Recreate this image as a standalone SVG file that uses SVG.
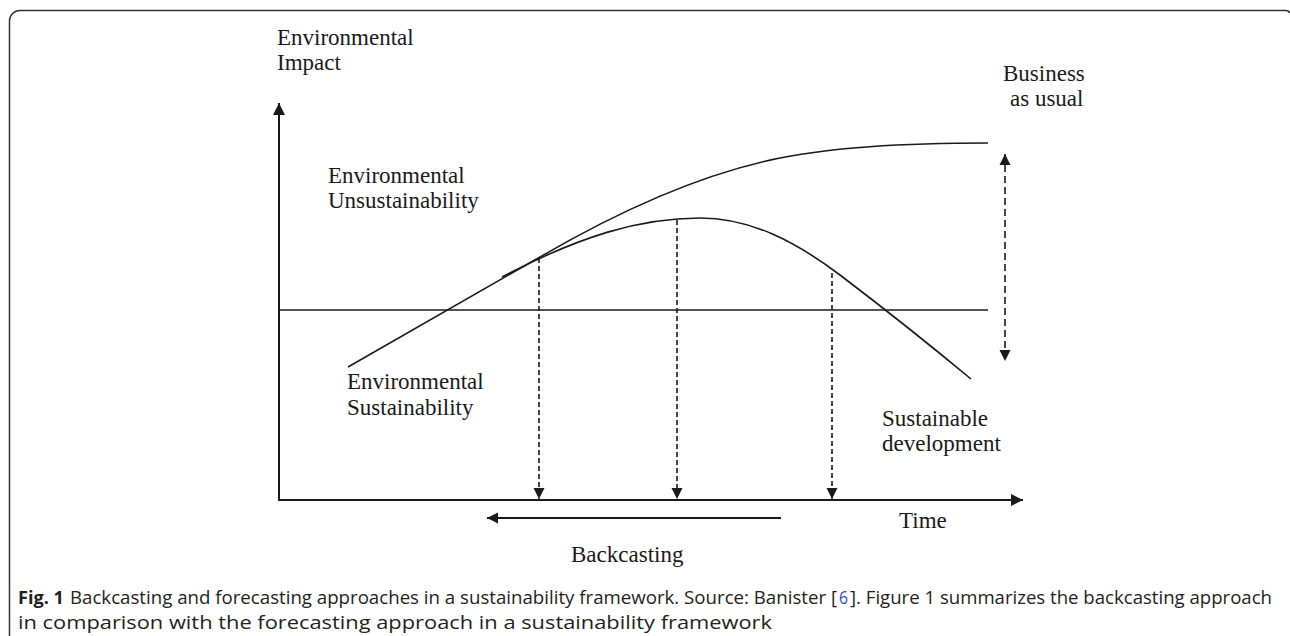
<svg xmlns="http://www.w3.org/2000/svg" width="1290" height="636" viewBox="0 0 1290 636">
<style>
.lbl{font-family:"Liberation Serif","Times New Roman",serif;font-size:23px;fill:#1a1a1a}
.cap{font-family:"Open Sans","Liberation Sans",sans-serif;font-size:18px;fill:#231f20}
.ax{stroke:#1a1a1a;stroke-width:2;fill:none}
.crv{stroke:#1a1a1a;stroke-width:1.6;fill:none}
.dash{stroke:#1a1a1a;stroke-width:1.6;fill:none;stroke-dasharray:5 3}
.dash2{stroke:#1a1a1a;stroke-width:1.6;fill:none;stroke-dasharray:7 4}
</style>
<defs>
<marker id="ah" markerUnits="userSpaceOnUse" markerWidth="12" markerHeight="12" refX="12" refY="6" orient="auto" overflow="visible">
<path d="M0,0 L12,6 L0,12 z" fill="#1a1a1a"/>
</marker>
<marker id="ahs" markerUnits="userSpaceOnUse" markerWidth="11" markerHeight="11" refX="11" refY="5.5" orient="auto" overflow="visible">
<path d="M0,0 L11,5.5 L0,11 z" fill="#1a1a1a"/>
</marker>
<marker id="ahsr" markerUnits="userSpaceOnUse" markerWidth="11" markerHeight="11" refX="0" refY="5.5" orient="auto" overflow="visible">
<path d="M11,0 L0,5.5 L11,11 z" fill="#1a1a1a"/>
</marker>
</defs>
<rect width="1290" height="636" fill="#ffffff"/>
<path d="M9.5,640 V21 A10.5,10.5 0 0 1 20,10.5 H1286 Q1289,10.5 1289.5,13" fill="none" stroke="#333" stroke-width="1.5"/>

<g id="connectors">
<line id="y-axis" class="ax" x1="279" y1="501" x2="279" y2="103" marker-end="url(#ah)"/>
<line id="x-axis" class="ax" x1="278" y1="500" x2="1023" y2="500" marker-end="url(#ah)"/>
<line id="threshold" class="crv" x1="279" y1="310" x2="988" y2="310"/>
<path id="bau" class="crv" d="M348,367 L540,257 C600,222 690,176 780,158 C840,146 920,143 988,143"/>
<path id="sust" class="crv" d="M502,277 C580,236 640,218 700,218 C750,218 795,241 840,275 C890,313 930,345 971,379"/>
<line class="dash" x1="539" y1="258" x2="539" y2="499" marker-end="url(#ahs)"/>
<line class="dash" x1="677" y1="220" x2="677" y2="499" marker-end="url(#ahs)"/>
<line class="dash" x1="832" y1="273" x2="832" y2="499" marker-end="url(#ahs)"/>
<line class="dash2" x1="1005" y1="154" x2="1005" y2="361" marker-start="url(#ahsr)" marker-end="url(#ahs)"/>
<line id="backcast-arrow" class="ax" x1="781" y1="518" x2="487" y2="518" marker-end="url(#ahs)"/>
</g>

<g id="label-impact"><text class="lbl" x="277" y="45">Environmental</text><text class="lbl" x="277" y="70">Impact</text></g>
<g id="label-unsust"><text class="lbl" x="328" y="183">Environmental</text><text class="lbl" x="328" y="208">Unsustainability</text></g>
<g id="label-bau"><text class="lbl" x="1003" y="81">Business</text><text class="lbl" x="1010" y="106">as usual</text></g>
<g id="label-sust"><text class="lbl" x="347" y="389">Environmental</text><text class="lbl" x="347" y="415">Sustainability</text></g>
<g id="label-sd"><text class="lbl" x="882" y="426">Sustainable</text><text class="lbl" x="882" y="451">development</text></g>
<g id="label-time"><text class="lbl" x="899" y="528">Time</text></g>
<g id="label-backcasting"><text class="lbl" x="571" y="562">Backcasting</text></g>

<g id="caption">
<text class="cap" x="18" y="604" font-weight="bold" textLength="46" lengthAdjust="spacingAndGlyphs">Fig. 1</text>
<text class="cap" x="70" y="604" textLength="767" lengthAdjust="spacingAndGlyphs">Backcasting and forecasting approaches in a sustainability framework. Source: Banister [</text>
<text class="cap" x="839" y="604" style="fill:#1f4fd6" textLength="9" lengthAdjust="spacingAndGlyphs">6</text>
<text class="cap" x="850" y="604" textLength="422" lengthAdjust="spacingAndGlyphs">]. Figure 1 summarizes the backcasting approach</text>
<text class="cap" x="18" y="629" style="font-size:19px" textLength="754" lengthAdjust="spacingAndGlyphs">in comparison with the forecasting approach in a sustainability framework</text>
</g>
</svg>
